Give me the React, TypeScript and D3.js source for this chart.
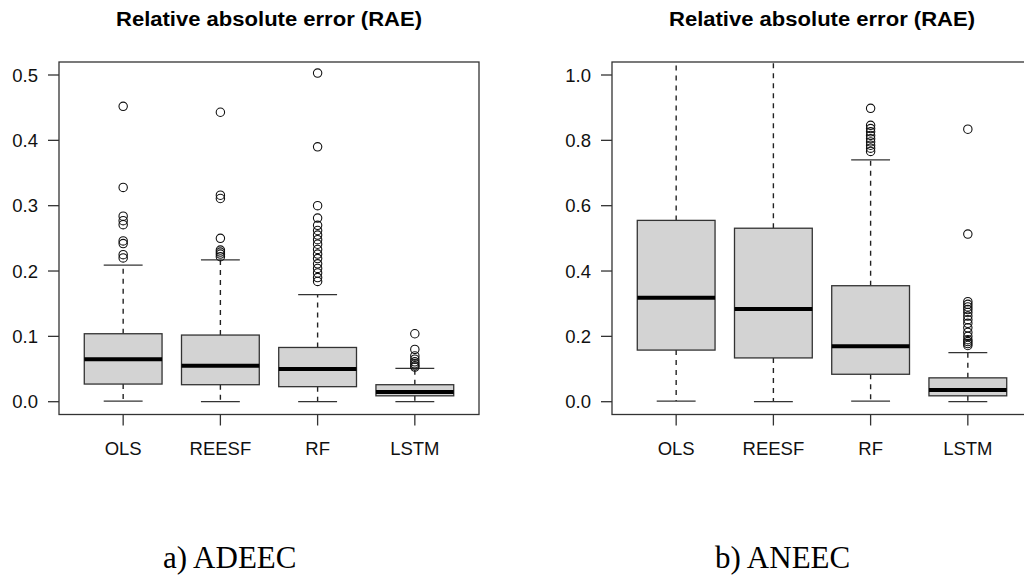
import React from "react";
import * as d3 from "d3";

// box statistics
const categories = ["OLS", "REESF", "RF", "LSTM"];

const adeecLow = [0.001, 0.0, 0.0, 0.0];
const adeecQ1 = [0.027, 0.026, 0.023, 0.009];
const adeecMed = [0.065, 0.055, 0.05, 0.015];
const adeecQ3 = [0.104, 0.102, 0.083, 0.026];
const adeecHigh = [0.209, 0.217, 0.164, 0.051];
const adeecOutliers = [
  [0.452, 0.328, 0.284, 0.277, 0.271, 0.246, 0.242, 0.225, 0.22],
  [0.443, 0.316, 0.311, 0.25, 0.232, 0.229, 0.226, 0.222],
  [0.503, 0.39, 0.3, 0.281, 0.27, 0.262, 0.255, 0.248, 0.241, 0.233, 0.226, 0.219, 0.211, 0.204, 0.197, 0.19, 0.184],
  [0.104, 0.08, 0.07, 0.065, 0.061, 0.058, 0.055, 0.053],
];
const adeecTicks = [0, 0.1, 0.2, 0.3, 0.4, 0.5];

const aneecLow = [0.002, 0.0, 0.002, 0.0];
const aneecQ1 = [0.158, 0.134, 0.084, 0.018];
const aneecMed = [0.318, 0.284, 0.17, 0.036];
const aneecQ3 = [0.555, 0.531, 0.355, 0.073];
const aneecHigh = [1.3, 1.3, 0.74, 0.15]; // OLS / REESF whiskers run off the top
const aneecOutliers = [
  [],
  [],
  [0.898, 0.846, 0.836, 0.826, 0.815, 0.805, 0.795, 0.785, 0.776, 0.766],
  [0.834, 0.513, 0.306, 0.298, 0.29, 0.282, 0.273, 0.262, 0.251, 0.24, 0.226, 0.212, 0.2, 0.19, 0.184, 0.178, 0.172],
];
const aneecTicks = [0, 0.2, 0.4, 0.6, 0.8, 1.0];

const SANS = "'Liberation Sans', Arial, sans-serif";
const SERIF = "'Liberation Serif', 'Times New Roman', serif";
const EDGE = "#333";

interface PanelProps {
  id: string;
  left: number;
  right: number;
  yMax: number;
  ticks: number[];
  low: number[];
  q1: number[];
  med: number[];
  q3: number[];
  high: number[];
  outliers: number[][];
}

const Panel: React.FC<PanelProps> = ({ id, left, right, yMax, ticks, low, q1, med, q3, high, outliers }) => {
  const top = 62;
  const bottom = 414.5;
  const y = d3.scaleLinear().domain([0, yMax]).range([401.7, 75]);
  const x = d3.scaleLinear().domain([0.34, 4.66]).range([left, right]);
  const unit = x(1) - x(0);
  const boxW = 0.8 * unit;
  const capW = 0.4 * unit;
  const fmt = d3.format(".1f");
  const cx = (left + right) / 2;

  return (
    <g>
      <defs>
        <clipPath id={id}>
          <rect x={left} y={top} width={right - left} height={bottom - top} />
        </clipPath>
      </defs>
      <text x={cx} y={25.5} textAnchor="middle" fontFamily={SANS} fontWeight="bold" fontSize={19.5}
        textLength={306} lengthAdjust="spacingAndGlyphs">
        Relative absolute error (RAE)
      </text>
      <g clipPath={`url(#${id})`}>
        {categories.map((c, i) => {
          const px = x(i + 1);
          return (
            <g key={c}>
              <line x1={px} x2={px} y1={y(q3[i])} y2={y(high[i])} stroke="#222" strokeWidth={1.4} strokeDasharray="5,5" />
              <line x1={px} x2={px} y1={y(q1[i])} y2={y(low[i])} stroke="#222" strokeWidth={1.4} strokeDasharray="5,5" />
              <line x1={px - capW / 2} x2={px + capW / 2} y1={y(high[i])} y2={y(high[i])} stroke={EDGE} strokeWidth={1.3} />
              <line x1={px - capW / 2} x2={px + capW / 2} y1={y(low[i])} y2={y(low[i])} stroke={EDGE} strokeWidth={1.3} />
              <rect x={px - boxW / 2} y={y(q3[i])} width={boxW} height={y(q1[i]) - y(q3[i])}
                fill="#d3d3d3" stroke={EDGE} strokeWidth={1.3} />
              <line x1={px - boxW / 2} x2={px + boxW / 2} y1={y(med[i])} y2={y(med[i])} stroke="#000" strokeWidth={4} />
              {outliers[i].map((v, k) => (
                <circle key={k} cx={px} cy={y(v)} r={4.2} fill="none" stroke="#111" strokeWidth={1.1} />
              ))}
            </g>
          );
        })}
      </g>
      <rect x={left} y={top} width={right - left} height={bottom - top} fill="none" stroke={EDGE} strokeWidth={1.3} />
      {ticks.map((t) => (
        <g key={t}>
          <line x1={left - 11} x2={left} y1={y(t)} y2={y(t)} stroke={EDGE} strokeWidth={1.3} />
          <text x={left - 21} y={y(t) + 6.5} textAnchor="end" fontFamily={SANS} fontSize={18.5} fill="#111">
            {fmt(t)}
          </text>
        </g>
      ))}
      {categories.map((c, i) => (
        <g key={c}>
          <line x1={x(i + 1)} x2={x(i + 1)} y1={bottom} y2={bottom + 11} stroke={EDGE} strokeWidth={1.3} />
          <text x={x(i + 1)} y={455} textAnchor="middle" fontFamily={SANS} fontSize={18.5} fill="#111">
            {c}
          </text>
        </g>
      ))}
    </g>
  );
};

export default function App() {
  return (
    <svg width={1024} height={583} style={{ position: "absolute", left: 0, top: 0, background: "#fff" }}>
      <Panel id="clipA" left={59} right={479} yMax={0.5} ticks={adeecTicks}
        low={adeecLow} q1={adeecQ1} med={adeecMed} q3={adeecQ3} high={adeecHigh} outliers={adeecOutliers} />
      <Panel id="clipB" left={612} right={1032} yMax={1.0} ticks={aneecTicks}
        low={aneecLow} q1={aneecQ1} med={aneecMed} q3={aneecQ3} high={aneecHigh} outliers={aneecOutliers} />
      <text x={163} y={568} fontFamily={SERIF} fontSize={31} fill="#000">
        a) ADEEC
      </text>
      <text x={715} y={568} fontFamily={SERIF} fontSize={31} fill="#000">
        b) ANEEC
      </text>
    </svg>
  );
}
